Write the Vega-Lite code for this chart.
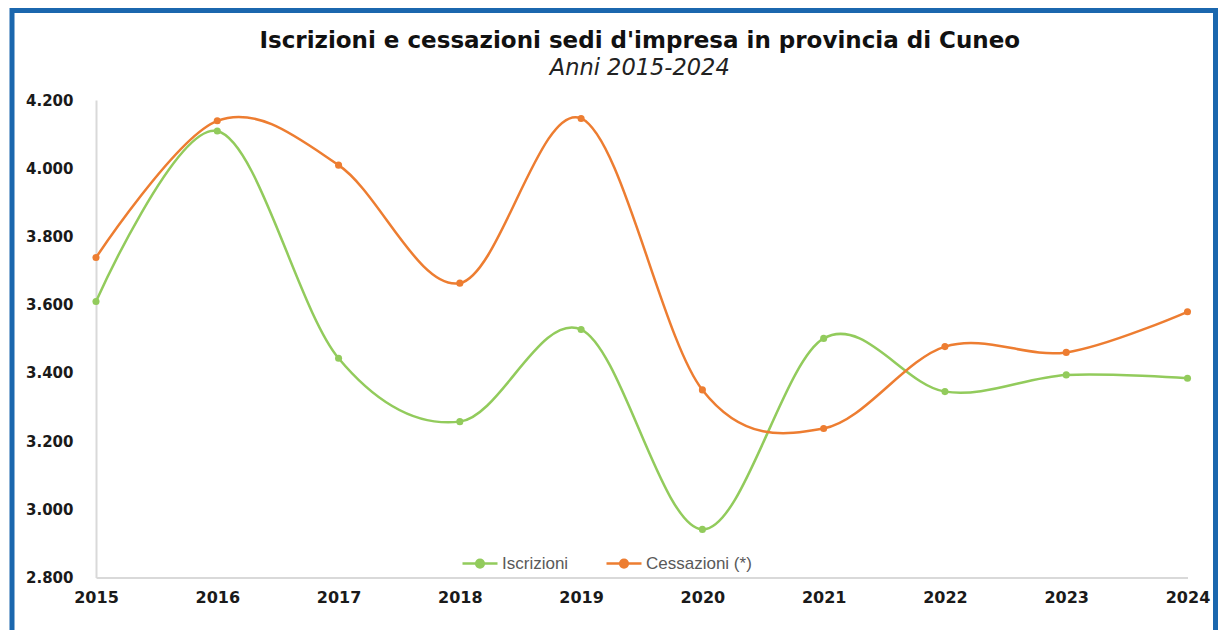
{
  "$schema": "https://vega.github.io/schema/vega-lite/v6.json",
  "autosize": {"type": "none"},
  "width": 1203.5,
  "height": 626,
  "padding": {"left": 12, "top": 10.5, "right": 13.5, "bottom": 0},
  "background": "white",
  "config": {
    "view": {"stroke": "#1B67AE", "strokeWidth": 5, "fill": "white"}
  },
  "title": {
    "text": "Iscrizioni e cessazioni sedi d'impresa in provincia di Cuneo",
    "subtitle": "Anni 2015-2024",
    "anchor": "middle",
    "frame": "group",
    "orient": "top",
    "offset": 0,
    "dx": 26,
    "dy": 69,
    "font": "DejaVu Sans",
    "fontSize": 23,
    "fontWeight": "bold",
    "color": "#111111",
    "subtitleFont": "DejaVu Sans",
    "subtitleFontSize": 22.5,
    "subtitleFontStyle": "italic",
    "subtitleColor": "#222222",
    "subtitlePadding": 4
  },
  "data": {
    "values": [
      {"anno": 2015, "serie": "Iscrizioni", "valore": 3609},
      {"anno": 2016, "serie": "Iscrizioni", "valore": 4109},
      {"anno": 2017, "serie": "Iscrizioni", "valore": 3443},
      {"anno": 2018, "serie": "Iscrizioni", "valore": 3257},
      {"anno": 2019, "serie": "Iscrizioni", "valore": 3527},
      {"anno": 2020, "serie": "Iscrizioni", "valore": 2941},
      {"anno": 2021, "serie": "Iscrizioni", "valore": 3501},
      {"anno": 2022, "serie": "Iscrizioni", "valore": 3345},
      {"anno": 2023, "serie": "Iscrizioni", "valore": 3394},
      {"anno": 2024, "serie": "Iscrizioni", "valore": 3384},
      {"anno": 2015, "serie": "Cessazioni (*)", "valore": 3738},
      {"anno": 2016, "serie": "Cessazioni (*)", "valore": 4139},
      {"anno": 2017, "serie": "Cessazioni (*)", "valore": 4009},
      {"anno": 2018, "serie": "Cessazioni (*)", "valore": 3663},
      {"anno": 2019, "serie": "Cessazioni (*)", "valore": 4146},
      {"anno": 2020, "serie": "Cessazioni (*)", "valore": 3350},
      {"anno": 2021, "serie": "Cessazioni (*)", "valore": 3237},
      {"anno": 2022, "serie": "Cessazioni (*)", "valore": 3477},
      {"anno": 2023, "serie": "Cessazioni (*)", "valore": 3460},
      {"anno": 2024, "serie": "Cessazioni (*)", "valore": 3579}
    ]
  },
  "mark": {
    "type": "line",
    "interpolate": "cardinal",
    "strokeWidth": 2.5,
    "point": {"filled": true, "size": 50}
  },
  "encoding": {
    "x": {
      "field": "anno",
      "type": "quantitative",
      "scale": {"domain": [2015, 2024], "range": [84, 1175.5], "nice": false, "zero": false},
      "axis": {
        "orient": "bottom",
        "offset": -59,
        "values": [2015, 2016, 2017, 2018, 2019, 2020, 2021, 2022, 2023, 2024],
        "format": "d",
        "title": null,
        "grid": false,
        "ticks": false,
        "domainColor": "#d9d9d9",
        "domainWidth": 2,
        "labelFont": "DejaVu Sans",
        "labelFontWeight": "bold",
        "labelFontSize": 16,
        "labelColor": "#1a1a1a",
        "labelPadding": 12,
        "labelFlush": false,
        "labelOverlap": false
      }
    },
    "y": {
      "field": "valore",
      "type": "quantitative",
      "scale": {"domain": [2800, 4200], "range": [567, 89.5], "nice": false, "zero": false},
      "axis": {
        "orient": "left",
        "offset": -84,
        "values": [2800, 3000, 3200, 3400, 3600, 3800, 4000, 4200],
        "labelExpr": "replace(format(datum.value, ','), ',', '.')",
        "title": null,
        "grid": false,
        "ticks": false,
        "domainColor": "#d9d9d9",
        "domainWidth": 2,
        "labelFont": "DejaVu Sans",
        "labelFontWeight": "bold",
        "labelFontSize": 15,
        "labelColor": "#1a1a1a",
        "labelPadding": 23,
        "labelFlush": false,
        "labelOverlap": false
      }
    },
    "color": {
      "field": "serie",
      "type": "nominal",
      "scale": {"domain": ["Iscrizioni", "Cessazioni (*)"], "range": ["#92CB5C", "#ED7D31"]},
      "legend": {
        "title": null,
        "orient": "none",
        "direction": "horizontal",
        "legendX": 449,
        "legendY": 534,
        "padding": 0,
        "symbolType": "M-1,0L1,0M0.22,0A0.22,0.22,0,1,1,-0.22,0A0.22,0.22,0,1,1,0.22,0Z",
        "symbolSize": 1225,
        "symbolStrokeWidth": 2.5,
        "labelFont": "Liberation Sans",
        "labelFontSize": 17,
        "labelColor": "#595959",
        "labelOffset": 3,
        "columnPadding": 32,
        "encode": {
          "symbols": {
            "update": {
              "fill": {"scale": "color", "field": "value"},
              "stroke": {"scale": "color", "field": "value"}
            }
          }
        }
      }
    }
  }
}
